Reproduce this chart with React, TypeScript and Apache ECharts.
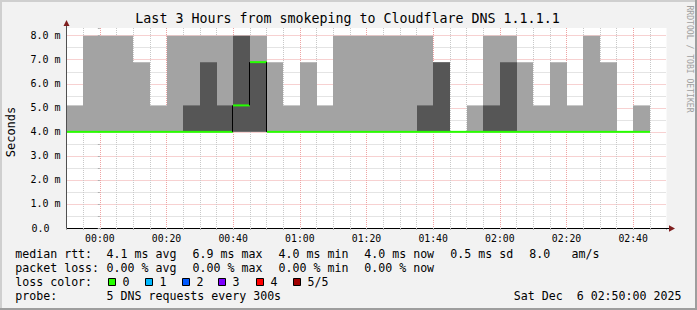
import React, { useEffect, useRef } from 'react';
import * as echarts from 'echarts';

// ---- data (5-minute steps starting at 23:50, minutes relative to 00:00) ----
const STEP_MINUTES = 5;
const START_MINUTE = -10;
const END_MINUTE = 170;

// sorted pings per step (ms): p1 (min), p2, p4, p5 (max)
const pingMin = [4.0, 4.0, 4.0, 4.0, 4.0, 4.0, 4.0, 4.0, 4.0, 4.0, 4.0, 4.0, 4.0, 4.0, 4.0, 4.0, 4.0, 4.0, 4.0, 4.0, 4.0, 4.0, 4.0, 4.0, 4.0, 4.0, 4.0, 4.0, 4.0, 4.0, 4.0, 4.0, 4.0, 4.0, 4.0, null];
const pingLowInner = [4.0, 4.0, 4.0, 4.0, 4.0, 4.0, 4.0, 4.0, 4.0, 4.0, 4.0, 4.0, 4.0, 4.0, 4.0, 4.0, 4.0, 4.0, 4.0, 4.0, 4.0, 4.0, 4.0, 4.0, 4.0, 4.0, 4.0, 4.0, 4.0, 4.0, 4.0, 4.0, 4.0, 4.0, 4.0, null];
const pingHighInner = [4.0, 4.0, 4.0, 4.0, 4.0, 4.0, 4.0, 5.1, 6.9, 5.1, 8.0, 6.9, 4.0, 4.0, 4.0, 4.0, 4.0, 4.0, 4.0, 4.0, 4.0, 5.1, 6.9, 4.0, 4.0, 5.1, 6.9, 4.0, 4.0, 4.0, 4.0, 4.0, 4.0, 4.0, 4.0, null];
const pingMax = [5.1, 8.0, 8.0, 8.0, 6.9, 5.1, 8.0, 8.0, 8.0, 8.0, 8.0, 8.0, 6.9, 5.1, 6.9, 5.1, 8.0, 8.0, 8.0, 8.0, 8.0, 8.0, 6.9, 4.0, 5.1, 8.0, 8.0, 6.9, 5.1, 6.9, 5.1, 8.0, 6.9, 4.0, 5.1, null];
const medianRtt = [4.0, 4.0, 4.0, 4.0, 4.0, 4.0, 4.0, 4.0, 4.0, 4.0, 5.1, 6.9, 4.0, 4.0, 4.0, 4.0, 4.0, 4.0, 4.0, 4.0, 4.0, 4.0, 4.0, 4.0, 4.0, 4.0, 4.0, 4.0, 4.0, 4.0, 4.0, 4.0, 4.0, 4.0, 4.0, null];
const lossCount = [0, 0, 0, 0, 0, 0, 0, 0, 0, 0, 0, 0, 0, 0, 0, 0, 0, 0, 0, 0, 0, 0, 0, 0, 0, 0, 0, 0, 0, 0, 0, 0, 0, 0, 0, null];

const xTickValues = [0, 20, 40, 60, 80, 100, 120, 140, 160];
const xTickLabels = ['00:00', '00:20', '00:40', '01:00', '01:20', '01:40', '02:00', '02:20', '02:40'];
const yTickValues = [0, 1, 2, 3, 4, 5, 6, 7, 8];
const yTickLabels = ['0.0', '1.0 m', '2.0 m', '3.0 m', '4.0 m', '5.0 m', '6.0 m', '7.0 m', '8.0 m'];
const Y_MAX = 8.32;

const lossColors = ['#26ff00', '#00b8ff', '#0059ff', '#7e00ff', '#ff0000', '#a00000'];
const lossLabels = ['0', '1', '2', '3', '4', '5/5'];

const titleText = 'Last 3 Hours from smokeping to Cloudflare DNS 1.1.1.1';
const rttStats = ['4.1 ms avg', '6.9 ms max', '4.0 ms min', '4.0 ms now', '0.5 ms sd', '8.0', 'am/s'];
const lossStats = ['0.00 % avg', '0.00 % max', '0.00 % min', '0.00 % now'];
const probeText = '5 DNS requests every 300s';
const dateText = 'Sat Dec  6 02:50:00 2025';

// ---- styling ----
const FONT = '"DejaVu Sans Mono", monospace';
const LIGHT = '#a3a3a3';
const DARK = '#565656';
const GRID_GRAY = '#c8c8c8';
const GRID_RED = '#eea3a3';
const ARROW = '#7f1f1f';

const rttX = [106.6, 192.6, 278.6, 364.3, 450.3, 529.3, 571.6];
const lossX = [106.6, 192.6, 278.6, 364.3];
const squareX = [108, 145, 182, 218, 256, 293];
const rowY = [254.3, 268.3, 282.3, 296.3];

function buildOption() {
  const smokeData: any[] = [];
  const medianData: any[] = [];
  for (let i = 0; i < pingMax.length; i++) {
    const x0 = START_MINUTE + i * STEP_MINUTES;
    const x1 = x0 + STEP_MINUTES;
    if (pingMax[i] != null) {
      smokeData.push([x0, x1, pingMin[i], pingLowInner[i], pingHighInner[i], pingMax[i]]);
    }
    if (medianRtt[i] != null) {
      const prev = i > 0 && medianRtt[i - 1] != null ? medianRtt[i - 1] : medianRtt[i];
      medianData.push([x0, x1, medianRtt[i], prev, lossCount[i]]);
    }
  }

  const xTickCount = (END_MINUTE - START_MINUTE) / STEP_MINUTES + 1;
  const xColors: string[] = [];
  for (let i = 0; i < xTickCount; i++) {
    const v = START_MINUTE + i * STEP_MINUTES;
    if (i === 0 || i === xTickCount - 1) xColors.push('rgba(0,0,0,0)');
    else xColors.push(v % 20 === 0 ? GRID_RED : GRID_GRAY);
  }
  const yColors: string[] = [];
  for (let i = 0; i <= 16; i++) yColors.push(i % 2 === 0 ? GRID_RED : GRID_GRAY);
  yColors.push('rgba(0,0,0,0)');

  const txt = (x: number, y: number, text: string, extra: any = {}, el: any = {}) => ({
    type: 'text',
    x,
    y,
    z: 50,
    silent: true,
    ...el,
    style: {
      text,
      fill: '#000',
      font: `11.6px ${FONT}`,
      textAlign: 'left',
      align: 'left',
      textVerticalAlign: 'middle',
      verticalAlign: 'middle',
      ...extra,
    },
  });

  const graphics: any[] = [
    // frame shading
    { type: 'rect', z: 40, shape: { x: 0, y: 0, width: 697, height: 2 }, style: { fill: '#cfcfcf' } },
    { type: 'rect', z: 40, shape: { x: 0, y: 0, width: 2, height: 310 }, style: { fill: '#cfcfcf' } },
    { type: 'rect', z: 41, shape: { x: 695, y: 0, width: 2, height: 310 }, style: { fill: '#9e9e9e' } },
    { type: 'rect', z: 41, shape: { x: 0, y: 308, width: 697, height: 2 }, style: { fill: '#9e9e9e' } },
    // axis extensions and arrows
    { type: 'line', z: 45, shape: { x1: 66.5, y1: 28, x2: 66.5, y2: 24 }, style: { stroke: '#505050', lineWidth: 1 } },
    { type: 'line', z: 45, shape: { x1: 666, y1: 228.5, x2: 670, y2: 228.5 }, style: { stroke: '#000', lineWidth: 1 } },
    { type: 'polygon', z: 46, shape: { points: [[63.5, 26], [69.5, 26], [66.5, 20]] }, style: { fill: ARROW } },
    { type: 'polygon', z: 46, shape: { points: [[669, 225.3], [669, 231.7], [675, 228.5]] }, style: { fill: ARROW } },
    // title
    txt(347.5, 18.7, titleText, { font: `13.3px ${FONT}`, textAlign: 'center', align: 'center' }),
    // unit label
    txt(11, 132, 'Seconds', { font: `12px ${FONT}`, textAlign: 'center', align: 'center' }, { rotation: Math.PI / 2 }),
    // watermark
    txt(690, 59, 'RRDTOOL / TOBI OETIKER', { font: `8.1px ${FONT}`, fill: '#a0a0a0', textAlign: 'center', align: 'center' }, { rotation: -Math.PI / 2 }),
    // legend rows
    txt(15.3, rowY[0], 'median rtt:'),
    txt(15.3, rowY[1], 'packet loss:'),
    txt(15.3, rowY[2], 'loss color:'),
    txt(15.3, rowY[3], 'probe:'),
    txt(106.6, rowY[3], probeText),
    txt(681.4, rowY[3], dateText, { textAlign: 'right', align: 'right' }),
  ];
  rttStats.forEach((s, i) => graphics.push(txt(rttX[i], rowY[0], s)));
  lossStats.forEach((s, i) => graphics.push(txt(lossX[i], rowY[1], s)));
  lossColors.forEach((c, i) => {
    graphics.push({
      type: 'rect',
      z: 50,
      shape: { x: squareX[i] + 0.5, y: 278.5, width: 7, height: 7 },
      style: { fill: c, stroke: '#000', lineWidth: 1 },
    });
    graphics.push(txt(squareX[i] + 14.6, rowY[2], lossLabels[i]));
  });

  return {
    animation: false,
    backgroundColor: '#f2f2f2',
    grid: { left: 66.5, top: 28, width: 600, height: 200, show: true, backgroundColor: '#ffffff', borderWidth: 0 },
    xAxis: [
      {
        type: 'value',
        min: START_MINUTE,
        max: END_MINUTE,
        interval: STEP_MINUTES,
        axisLine: { show: true, onZero: false, lineStyle: { color: '#000', width: 1 } },
        axisTick: { show: true, length: 2, lineStyle: { color: '#b0b0b0' } },
        axisLabel: {
          margin: 5,
          fontFamily: FONT,
          fontSize: 9.8,
          color: '#000',
          formatter: (v: number) => {
            const k = xTickValues.indexOf(Math.round(v));
            return k >= 0 && Math.abs(v - Math.round(v)) < 1e-6 ? xTickLabels[k] : '';
          },
        },
        splitLine: { show: true, lineStyle: { color: xColors, type: [1, 1], width: 1 } },
      },
    ],
    yAxis: [
      {
        type: 'value',
        min: 0,
        max: Y_MAX,
        interval: 0.5,
        axisLine: { show: false },
        axisTick: { show: true, length: 2, lineStyle: { color: '#b0b0b0' } },
        axisLabel: {
          margin: 6,
          fontFamily: FONT,
          fontSize: 10,
          color: '#000',
          formatter: (v: number) => {
            const k = yTickValues.findIndex((t) => Math.abs(t - v) < 1e-6);
            if (k < 0) return '';
            return k === 0 ? `{z|${yTickLabels[0]}}` : yTickLabels[k];
          },
          rich: { z: { fontFamily: FONT, fontSize: 10, color: '#000', padding: [0, 11, 0, 0] } },
        },
        splitLine: { show: true, lineStyle: { color: yColors, type: [1, 1], width: 1 } },
      },
      {
        type: 'value',
        min: 0,
        max: Y_MAX,
        position: 'left',
        z: 10,
        axisLine: { show: true, lineStyle: { color: '#505050', width: 1 } },
        axisTick: { show: false },
        axisLabel: { show: false },
        splitLine: { show: false },
      },
    ],
    series: [
      {
        type: 'custom',
        name: 'smoke',
        xAxisIndex: 0,
        yAxisIndex: 0,
        z: 2,
        encode: { x: [0, 1], y: [2, 3, 4, 5] },
        data: smokeData,
        renderItem: (params: any, api: any) => {
          const x0 = api.value(0);
          const x1 = api.value(1);
          const p1 = api.value(2);
          const p2 = api.value(3);
          const p4 = api.value(4);
          const p5 = api.value(5);
          const L = Math.round(api.coord([x0, 0])[0]);
          const R = Math.round(api.coord([x1, 0])[0]);
          const yv = (v: number) => api.coord([x0, v])[1];
          const children: any[] = [];
          if (p5 > p1) {
            children.push({ type: 'rect', shape: { x: L, y: yv(p5), width: R - L, height: yv(p1) - yv(p5) }, style: { fill: LIGHT } });
          }
          if (p4 > p2) {
            children.push({ type: 'rect', shape: { x: L, y: yv(p4), width: R - L, height: yv(p2) - yv(p4) }, style: { fill: DARK } });
          }
          return { type: 'group', children };
        },
      },
      {
        type: 'custom',
        name: 'median',
        xAxisIndex: 0,
        yAxisIndex: 0,
        z: 3,
        encode: { x: [0, 1], y: [2, 3] },
        data: medianData,
        renderItem: (params: any, api: any) => {
          const x0 = api.value(0);
          const x1 = api.value(1);
          const m = api.value(2);
          const prev = api.value(3);
          const loss = api.value(4);
          const L = Math.round(api.coord([x0, 0])[0]);
          const R = Math.round(api.coord([x1, 0])[0]);
          const ym = api.coord([x0, m])[1];
          const children: any[] = [];
          if (prev !== m) {
            const yp = api.coord([x0, prev])[1];
            children.push({ type: 'line', shape: { x1: L - 0.5, y1: yp, x2: L - 0.5, y2: ym }, style: { stroke: '#000', lineWidth: 1 } });
          }
          children.push({ type: 'line', shape: { x1: L, y1: ym, x2: R, y2: ym }, style: { stroke: lossColors[loss], lineWidth: 2 } });
          return { type: 'group', children };
        },
      },
    ],
    graphic: graphics,
  };
}

export default function App() {
  const ref = useRef<HTMLDivElement>(null);
  useEffect(() => {
    document.body.style.margin = '0';
    const chart = echarts.init(ref.current as HTMLDivElement, null, { renderer: 'svg' });
    chart.setOption(buildOption() as any);
    return () => chart.dispose();
  }, []);
  return <div ref={ref} style={{ width: 697, height: 310 }} />;
}
